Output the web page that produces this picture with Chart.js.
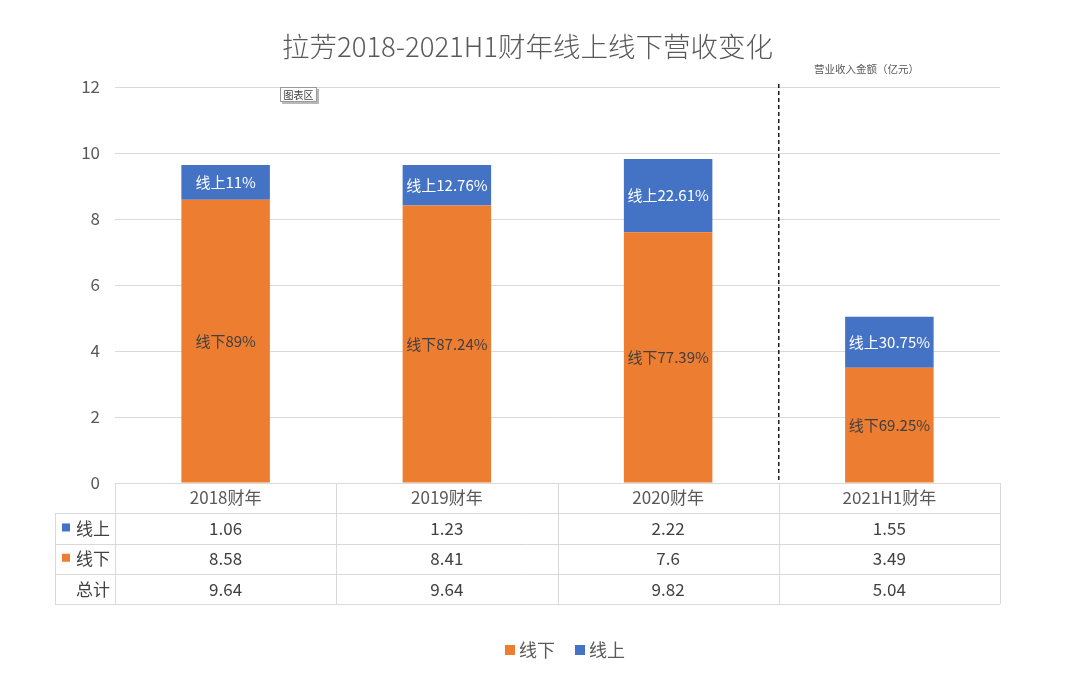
<!DOCTYPE html>
<html>
<head>
<meta charset="utf-8">
<script src="https://cdn.jsdelivr.net/npm/chart.js@4"></script>
<style>
    html, body { margin: 0; padding: 0; background: #ffffff; }
    #wrap { width: 1080px; height: 684px; position: relative; }
</style>
</head>
<body>
<div id="wrap"><canvas id="revChart"></canvas></div>
<script>
const categories = ['2018财年', '2019财年', '2020财年', '2021H1财年'];
const onlineValues = [1.06, 1.23, 2.22, 1.55];
const offlineValues = [8.58, 8.41, 7.6, 3.49];
const totalValues = [9.64, 9.64, 9.82, 5.04];
const onlineShare = ['11%', '12.76%', '22.61%', '30.75%'];
const offlineShare = ['89%', '87.24%', '77.39%', '69.25%'];
const yTicks = [0, 2, 4, 6, 8, 10, 12];

const FONT = "'Noto Sans CJK SC', 'Noto Sans', sans-serif";
const ORANGE = '#ED7D31';
const BLUE = '#4472C4';
const GRID = '#d9d9d9';

// labels inside the stacked segments
const segmentLabels = {
    id: 'segmentLabels',
    afterDatasetsDraw(chart) {
        const ctx = chart.ctx;
        ctx.save();
        ctx.font = '15px ' + FONT;
        ctx.textAlign = 'center';
        ctx.textBaseline = 'middle';
        chart.data.datasets.forEach((ds, di) => {
            const meta = chart.getDatasetMeta(di);
            meta.data.forEach((bar, i) => {
                const y = (bar.y + bar.base) / 2;
                ctx.fillStyle = di === 0 ? '#404040' : '#ffffff';
                ctx.fillText(ds.label + ds.shares[i], bar.x, y);
            });
        });
        ctx.restore();
    }
};

// dashed divider, data table under the axis, legend and the two small notes
const extras = {
    id: 'extras',
    afterDraw(chart) {
        const ctx = chart.ctx;
        const xs = chart.scales.x;
        const area = chart.chartArea;
        const rowH = 30.3;
        const tableLeft = 55;

        ctx.save();

        // divider between full years and half year
        const divX = xs.getPixelForValue(2.5);
        ctx.strokeStyle = '#1a1a1a';
        ctx.lineWidth = 1.5;
        ctx.setLineDash([4, 3]);
        ctx.beginPath();
        ctx.moveTo(divX, area.top - 3);
        ctx.lineTo(divX, area.bottom);
        ctx.stroke();
        ctx.setLineDash([]);

        // table grid
        ctx.strokeStyle = GRID;
        ctx.lineWidth = 1;
        ctx.beginPath();
        for (let r = 1; r <= 4; r++) {
            const y = Math.round(area.bottom + r * rowH) + 0.5;
            ctx.moveTo(tableLeft, y);
            ctx.lineTo(area.right, y);
        }
        for (let i = 0; i <= categories.length; i++) {
            const x = Math.round(xs.getPixelForValue(i - 0.5)) + 0.5;
            ctx.moveTo(x, area.bottom);
            ctx.lineTo(x, area.bottom + 4 * rowH);
        }
        ctx.moveTo(tableLeft + 0.5, area.bottom + rowH);
        ctx.lineTo(tableLeft + 0.5, area.bottom + 4 * rowH);
        ctx.stroke();

        // table rows
        const rows = [
            { name: '线上', color: BLUE, values: onlineValues },
            { name: '线下', color: ORANGE, values: offlineValues },
            { name: '总计', color: null, values: totalValues }
        ];
        ctx.font = '17px ' + FONT;
        ctx.textBaseline = 'middle';
        rows.forEach((row, r) => {
            const cy = area.bottom + (r + 1.5) * rowH;
            if (row.color) {
                ctx.fillStyle = row.color;
                ctx.fillRect(62, cy - 5, 8, 8);
            }
            ctx.fillStyle = '#404040';
            ctx.textAlign = 'right';
            ctx.fillText(row.name, 110, cy);
            ctx.textAlign = 'center';
            row.values.forEach((v, i) => {
                ctx.fillText(String(v), xs.getPixelForValue(i), cy);
            });
        });

        // legend
        ctx.font = '18px ' + FONT;
        ctx.textAlign = 'left';
        const items = chart.data.datasets.map(ds => ({ text: ds.label, color: ds.backgroundColor }));
        const box = 10, gapText = 4, gapItem = 20;
        let total = 0;
        items.forEach((it, k) => {
            it.w = ctx.measureText(it.text).width;
            total += box + gapText + it.w + (k ? gapItem : 0);
        });
        let lx = 565 - total / 2;
        const ly = 650;
        items.forEach(it => {
            ctx.fillStyle = it.color;
            ctx.fillRect(lx, ly - box / 2, box, box);
            ctx.fillStyle = '#595959';
            ctx.fillText(it.text, lx + box + gapText, ly);
            lx += box + gapText + it.w + gapItem;
        });

        // unit note
        ctx.font = '10.5px ' + FONT;
        ctx.fillStyle = '#595959';
        ctx.fillText('营业收入金额（亿元）', 814, 69);

        // little "chart area" tag
        ctx.font = '10px ' + FONT;
        ctx.fillStyle = '#b8b8b8';
        ctx.fillRect(282, 89, 37, 15);
        ctx.fillStyle = '#ffffff';
        ctx.fillRect(280, 87, 37, 15);
        ctx.strokeStyle = '#9a9a9a';
        ctx.strokeRect(280.5, 87.5, 36, 14);
        ctx.fillStyle = '#404040';
        ctx.textAlign = 'center';
        ctx.fillText('图表区', 298.5, 95);

        ctx.restore();
    }
};

const ctx = document.getElementById('revChart').getContext('2d');
new Chart(ctx, {
    type: 'bar',
    data: {
        labels: categories,
        datasets: [
            {
                label: '线下',
                data: offlineValues,
                shares: offlineShare,
                backgroundColor: ORANGE,
                borderWidth: 0
            },
            {
                label: '线上',
                data: onlineValues,
                shares: onlineShare,
                backgroundColor: BLUE,
                borderWidth: 0
            }
        ]
    },
    options: {
        responsive: true,
        maintainAspectRatio: false,
        animation: false,
        layout: { padding: { left: 55, right: 80, top: 0, bottom: 52 } },
        datasets: { bar: { categoryPercentage: 1, barPercentage: 0.4 } },
        scales: {
            x: {
                stacked: true,
                grid: { display: false, drawTicks: false },
                border: { display: false },
                ticks: { color: '#595959', font: { family: FONT, size: 17 }, padding: 4 },
                afterFit(scale) { scale.height = 149; }
            },
            y: {
                stacked: true,
                min: 0,
                max: 12,
                afterBuildTicks(scale) { scale.ticks = yTicks.map(v => ({ value: v })); },
                grid: { color: GRID, drawTicks: false },
                border: { display: false },
                ticks: { color: '#595959', font: { family: FONT, size: 17 }, padding: 15 },
                afterFit(scale) { scale.width = 60; }
            }
        },
        plugins: {
            title: {
                display: true,
                text: '拉芳2018-2021H1财年线上线下营收变化',
                color: '#595959',
                font: { family: FONT, size: 27.5, weight: 300 },
                padding: { top: 30, bottom: 24 }
            },
            legend: { display: false },
            tooltip: { enabled: false }
        }
    },
    plugins: [segmentLabels, extras]
});
</script>
</body>
</html>
